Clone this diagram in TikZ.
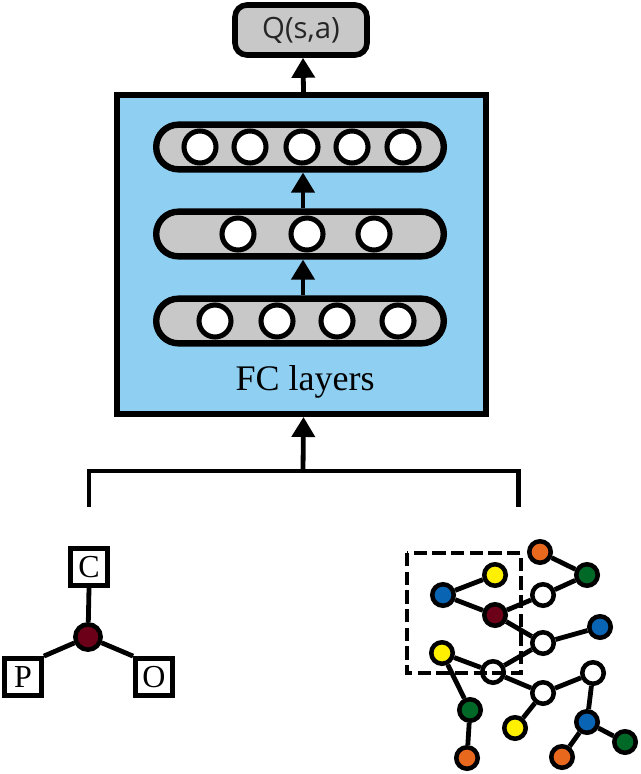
\documentclass[tikz,border=0pt]{standalone}
\usepackage{fontspec}
\setmainfont{Liberation Serif}
\newfontfamily\qfont{Open Sans}
\usetikzlibrary{arrows.meta}
\definecolor{fcblue}{RGB}{142,207,242}
\definecolor{pillgray}{RGB}{200,200,200}
\definecolor{atomred}{RGB}{107,0,24}
\definecolor{atomorange}{RGB}{232,104,30}
\definecolor{atomgreen}{RGB}{0,105,40}
\definecolor{atomblue}{RGB}{10,100,180}
\definecolor{atomyellow}{RGB}{255,240,0}
\begin{document}
\begin{tikzpicture}[x=0.75pt,y=-0.75pt,
  pill/.style={draw, line width=4.8pt, fill=pillgray, rounded corners=16.7pt,
    minimum width=215.7pt, minimum height=33.5pt, inner sep=0pt},
  neuron/.style={circle, draw, line width=3.8pt, fill=white, minimum size=24pt, inner sep=0pt},
  atom/.style={circle, draw, line width=3.4pt, minimum size=16.1pt, inner sep=0pt},
  lbox/.style={draw, line width=3.6pt, fill=white, minimum size=27.75pt, inner sep=0pt,
    font=\fontsize{24}{24}\selectfont},
  arr/.style={line width=3.6pt, -{Triangle[width=17pt,length=15pt]}},
  bond/.style={line width=3.6pt},
]
\useasboundingbox (0,0) rectangle (640,774);

% Q(s,a)
\node[draw, line width=4.2pt, fill=pillgray, rounded corners=9pt,
  minimum width=99pt, minimum height=37.5pt, inner sep=0pt,
  font=\qfont\fontsize{22}{22}\selectfont, text=black!85] (q) at (301,30) {Q(s,a)};

% FC box
\node[draw, line width=4.2pt, fill=fcblue, minimum width=277pt, minimum height=239.5pt,
  inner sep=0pt] (fc) at (301.5,254.5) {};

\node[pill] (p3) at (300,147) {};
\node[pill] (p2) at (300,234) {};
\node[pill] (p1) at (300,321) {};

\foreach \x [count=\i] in {200,250,302,352,403} \node[neuron] (t\i) at (\x,147) {};
\foreach \x [count=\i] in {238,307,374} \node[neuron] (m\i) at (\x,234) {};
\foreach \x [count=\i] in {215,277,337,398} \node[neuron] (b\i) at (\x,321) {};

\draw[arr] ([xshift=2.25pt]p1.north) -- ([xshift=2.25pt]p2.south);
\draw[arr] ([xshift=2.25pt]p2.north) -- ([xshift=2.25pt]p3.south);

\node[font=\fontsize{27}{27}\selectfont] (fclabel) at (305,382) {FC layers};

\draw[arr] ([xshift=1.5pt]fc.north) -- ([xshift=1.5pt]q.south);

% bracket
\coordinate (brc) at (303,471);
\coordinate (brl) at (89,507);
\coordinate (brr) at (518.5,507);
\draw[line width=3.6pt] (brl) -- (brl |- brc) -- (brr |- brc) -- (brr);
\draw[arr] (brc) -- ([xshift=1.5pt]fc.south);

% left molecule
\node[lbox] (C) at (89,567) {C};
\node[lbox] (P) at (23,677) {P};
\node[lbox] (O) at (154,677) {O};
\node[atom, fill=atomred, minimum size=19pt] (ctr) at (88,637) {};
\draw[bond] (ctr) -- (C.south);
\draw[bond] (ctr) -- (P.north east);
\draw[bond] (ctr) -- (O.north west);

% right molecule
\node[atom, fill=atomorange] (o1) at (540,552) {};
\node[atom, fill=atomgreen]  (g1) at (587,575) {};
\node[atom, fill=atomyellow] (y1) at (495,575) {};
\node[atom, fill=atomblue]   (b1) at (443,595) {};
\node[atom, fill=white]      (w1) at (543,595) {};
\node[atom, fill=atomred]    (r1) at (495,615) {};
\node[atom, fill=atomblue]   (b2) at (600,627) {};
\node[atom, fill=white]      (w2) at (543,643) {};
\node[atom, fill=atomyellow] (y2) at (442,653) {};
\node[atom, fill=white]      (w3) at (493,672) {};
\node[atom, fill=white]      (w4) at (593,673) {};
\node[atom, fill=white]      (w5) at (543,693) {};
\node[atom, fill=atomgreen]  (g2) at (470,710) {};
\node[atom, fill=atomblue]   (b3) at (587,722) {};
\node[atom, fill=atomyellow] (y3) at (515,728) {};
\node[atom, fill=atomgreen]  (g3) at (625,742) {};
\node[atom, fill=atomorange] (o2) at (467,758) {};
\node[atom, fill=atomorange] (o3) at (562,757) {};

\foreach \a/\b in {o1/g1, g1/w1, y1/b1, b1/r1, r1/w1, r1/w2, w2/b2, w2/w3,
  y2/w3, y2/g2, g2/o2, w3/w5, w5/y3, w5/w4, w4/b3, b3/o3, b3/g3}
  \draw[bond] (\a) -- (\b);

\draw[line width=3.4pt, dash pattern=on 10pt off 4pt] (407,553) rectangle (521,673);
\end{tikzpicture}
\end{document}
